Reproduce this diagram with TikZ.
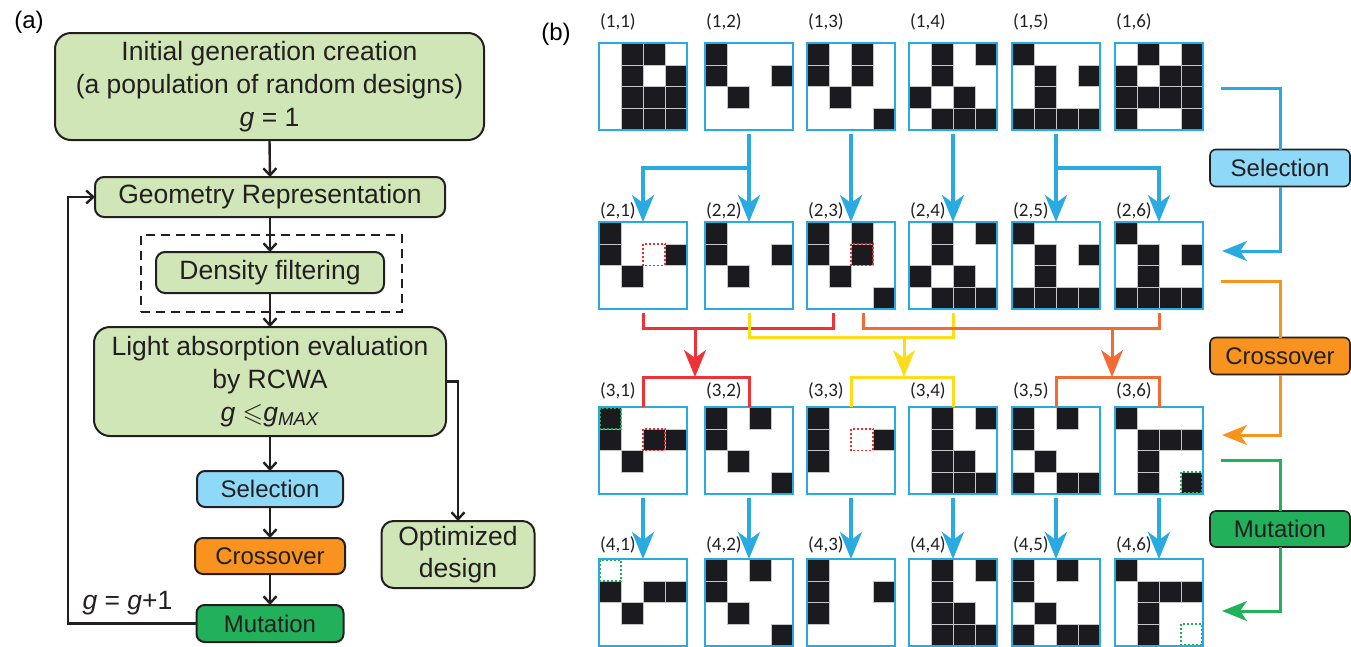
\documentclass[tikz,border=0pt]{standalone}
\usepackage{fontspec}
\usepackage{amssymb}
\setmainfont{Liberation Sans}
\newfontfamily\labfont{Carlito}
\usetikzlibrary{arrows.meta,calc}
\definecolor{boxblue}{HTML}{29ABE2}
\definecolor{selfill}{HTML}{8ED8F8}
\definecolor{crossfill}{HTML}{F7931E}
\definecolor{mutfill}{HTML}{22B05B}
\definecolor{lgreen}{HTML}{D0E6B6}
\definecolor{dark}{HTML}{231F20}
\definecolor{cellblack}{HTML}{1B1A1F}
\definecolor{xred}{HTML}{EE3338}
\definecolor{xyellow}{HTML}{FDDC1A}
\definecolor{xorange}{HTML}{F26B35}
\definecolor{rorange}{HTML}{F7941D}
\definecolor{rgreen}{HTML}{21B35B}
\definecolor{dotred}{HTML}{EE2B2B}
\definecolor{dotgreen}{HTML}{1DB052}
\tikzset{
  flow/.style={draw=dark, line width=2.4pt, -{Straight Barb[length=7pt,width=13pt]}},
  pbox/.style={draw=dark, line width=2pt, fill=lgreen, rounded corners=16pt, inner sep=0pt, outer sep=0pt, align=center, text=dark, font=\fontsize{26.5}{33}\selectfont},
  mbox/.style={draw=dark, line width=2pt, fill=lgreen, rounded corners=9pt, inner sep=0pt, outer sep=0pt, align=center, text=dark, font=\fontsize{26.5}{33}\selectfont},
  sbox/.style={draw=dark, line width=2pt, rounded corners=8pt, inner sep=0pt, outer sep=0pt, align=center, text=dark, font=\fontsize{24}{28}\selectfont},
  dashbox/.style={draw=dark, line width=2pt, dash pattern=on 9pt off 6pt, inner sep=0pt, outer sep=0pt},
  dnode/.style={rectangle, inner sep=0pt, outer sep=0pt, minimum width=88pt, minimum height=87pt},
  dborder/.style={draw=boxblue, line width=2.2pt},
  cellfill/.style={fill=cellblack, draw=gray!45, line width=0.4pt},
  reddot/.style={draw=dotred, line width=1.8pt, dash pattern=on 2pt off 2pt},
  greendot/.style={draw=dotgreen, line width=1.8pt, dash pattern=on 2pt off 2pt},
  dlab/.style={anchor=west, inner sep=0pt, text=dark, font=\labfont\fontsize{19}{22}\selectfont},
  bigtip/.style={-{Stealth[length=27pt,width=22pt,inset=8pt]}},
  selarrow/.style={draw=boxblue, line width=3.5pt, bigtip},
  redline/.style={draw=xred, line width=3pt},
  yelline/.style={draw=xyellow, line width=3pt},
  orline/.style={draw=xorange, line width=3pt},
  rtip/.style={-{Stealth[length=25pt,width=20pt,inset=7pt]}},
  rline/.style={line width=3pt},
  panlab/.style={inner sep=0pt, text=black, font=\fontsize{24}{28}\selectfont}
}
\newcommand\drawdesign[5]{%
  \node[dnode] (#1) at (#2,#3) {};
  \begin{scope}[shift={(#1.north west)}]
    \foreach \cc/\rr in {#4}{\path[cellfill] (\cc*22,\rr*21.75) rectangle ++(22,21.75);}
    #5
  \end{scope}
  \draw[dborder] (#1.north west) rectangle (#1.south east);
}
\begin{document}
\begin{tikzpicture}[x=1pt,y=-1pt]
\useasboundingbox (0,0) rectangle (1351,646);

% ---------------- panel (a) ----------------
\node[panlab] (pa) at (29,22) {(a)};
\node[pbox, minimum width=429pt, minimum height=107pt] (init) at (269.5,86.5)
  {Initial generation creation\\(a population of random designs)\\\textit{g} = 1};
\node[mbox, minimum width=350pt, minimum height=40pt] (geo) at (270,197) {Geometry Representation};
\node[dashbox, minimum width=261pt, minimum height=77pt] (filt) at (271.5,273.5) {};
\node[mbox, minimum width=228pt, minimum height=41pt] (dens) at (270,272.5) {Density filtering};
\node[pbox, minimum width=352pt, minimum height=109pt] (light) at (270,381.5)
  {Light absorption evaluation\\by RCWA\\\textit{g} $\leqslant$\textit{g}\textsubscript{\textit{MAX}}};
\node[sbox, fill=selfill, minimum width=146pt, minimum height=36pt] (sel) at (270,489) {Selection};
\node[sbox, fill=crossfill, minimum width=150pt, minimum height=36pt] (cross) at (270,556) {Crossover};
\node[sbox, fill=mutfill, minimum width=147pt, minimum height=37pt] (mut) at (270,623.5) {Mutation};
\node[pbox, rounded corners=12pt, minimum width=153pt, minimum height=67pt, font=\fontsize{26.5}{32}\selectfont] (opt) at (458,554.5) {Optimized\\design};
\node[inner sep=0pt, text=dark, font=\fontsize{26.5}{30}\selectfont] (gl) at (127.5,603) {\textit{g} = \textit{g}+1};
\coordinate (fbc) at (68,623.5);

\draw[flow] (init.south) -- (geo.north);
\draw[flow] (geo.south) -- (dens.north);
\draw[flow] (dens.south) -- (light.north);
\draw[flow] (light.south) -- (sel.north);
\draw[flow] (sel.south) -- (cross.north);
\draw[flow] (cross.south) -- (mut.north);
\draw[flow] (light.east) -| (opt.north);
\draw[flow] (mut.west) -- (fbc) |- (geo.west);

% ---------------- panel (b) ----------------
\node[panlab] (pb) at (556,34) {(b)};

% row 1
\drawdesign{d11}{643}{86.5}{1/0,2/0,1/1,3/1,1/2,2/2,3/2,1/3,2/3,3/3}{}
\drawdesign{d12}{749}{86.5}{0/0,0/1,3/1,1/2}{}
\drawdesign{d13}{851}{86.5}{0/0,2/0,0/1,2/1,1/2,3/3}{}
\drawdesign{d14}{953}{86.5}{1/0,3/0,1/1,0/2,2/2,1/3,2/3,3/3}{}
\drawdesign{d15}{1056}{86.5}{0/0,1/1,3/1,1/2,0/3,1/3,2/3,3/3}{}
\drawdesign{d16}{1159}{86.5}{1/0,3/0,0/1,2/1,3/1,0/2,1/2,2/2,3/2,0/3,3/3}{}
% row 2
\drawdesign{d21}{643}{265.5}{0/0,0/1,3/1,1/2}{\draw[reddot] (44,21.75) rectangle ++(22,21.75);}
\drawdesign{d22}{749}{265.5}{0/0,0/1,3/1,1/2}{}
\drawdesign{d23}{851}{265.5}{0/0,2/0,0/1,2/1,1/2,3/3}{\draw[reddot] (44,21.75) rectangle ++(22,21.75);}
\drawdesign{d24}{953}{265.5}{1/0,3/0,1/1,0/2,2/2,1/3,2/3,3/3}{}
\drawdesign{d25}{1056}{265.5}{0/0,1/1,3/1,1/2,0/3,1/3,2/3,3/3}{}
\drawdesign{d26}{1159}{265.5}{0/0,1/1,3/1,1/2,0/3,1/3,2/3,3/3}{}
% row 3
\drawdesign{d31}{643}{450.5}{0/0,0/1,2/1,3/1,1/2}{\draw[reddot] (44,21.75) rectangle ++(22,21.75);\draw[greendot] (1,1) rectangle (22,21.75);}
\drawdesign{d32}{749}{450.5}{0/0,2/0,0/1,1/2,3/3}{}
\drawdesign{d33}{851}{450.5}{0/0,0/1,3/1,0/2}{\draw[reddot] (44,21.75) rectangle ++(22,21.75);}
\drawdesign{d34}{953}{450.5}{1/0,3/0,1/1,1/2,2/2,1/3,2/3,3/3}{}
\drawdesign{d35}{1056}{450.5}{0/0,2/0,0/1,1/2,0/3,2/3,3/3}{}
\drawdesign{d36}{1159}{450.5}{0/0,1/1,2/1,3/1,1/2,1/3,3/3}{\draw[greendot] (66,65.25) rectangle (87,86);}
% row 4
\drawdesign{d41}{643}{602.5}{0/1,2/1,3/1,1/2}{\draw[greendot] (1,1) rectangle (22,21.75);}
\drawdesign{d42}{749}{602.5}{0/0,2/0,0/1,1/2,3/3}{}
\drawdesign{d43}{851}{602.5}{0/0,0/1,3/1,0/2}{}
\drawdesign{d44}{953}{602.5}{1/0,3/0,1/1,1/2,2/2,1/3,2/3,3/3}{}
\drawdesign{d45}{1056}{602.5}{0/0,2/0,0/1,1/2,0/3,2/3,3/3}{}
\drawdesign{d46}{1159}{602.5}{0/0,1/1,2/1,3/1,1/2,1/3}{\draw[greendot] (66,65.25) rectangle (87,86);}

% labels
\foreach \i/\ly in {1/22,2/211,3/391,4/545}
  \foreach \j/\lx in {1/600,2/706,3/808,4/910,5/1013,6/1116}
    \node[dlab] (lab\i\j) at (\lx,\ly) {(\i,\j)};

% selection arrows row 1 -> row 2
\draw[selarrow] ($(d12.south)+(0,4)$) -- (d22.north);
\draw[selarrow] ($(d12.south)+(0,4)$) |- ($(d21.north)+(0,-54)$) -- (d21.north);
\draw[selarrow] ($(d13.south)+(0,4)$) -- (d23.north);
\draw[selarrow] ($(d14.south)+(0,4)$) -- (d24.north);
\draw[selarrow] ($(d15.south)+(0,4)$) -- (d25.north);
\draw[selarrow] ($(d15.south)+(0,4)$) |- ($(d26.north)+(0,-54)$) -- (d26.north);

% crossover connectors
\coordinate (rj) at (695,328.5);   \coordinate (rt) at (695,377);
\coordinate (yj) at (904,337.5);   \coordinate (yt) at (904,377);
\coordinate (oj) at (1112,328.5);  \coordinate (ot) at (1112,377);
\draw[redline] ($(d21.south)+(0,4)$) |- ($(d23.south)+(-18,19)$) -- ($(d23.south)+(-18,4)$);
\draw[redline, bigtip] (rj) -- (rt);
\draw[redline] (d31.north) -- ++(0,-30) -| (d32.north);
\draw[yelline] ($(d22.south)+(0,4)$) |- ($(d24.south)+(0,28)$) -- ($(d24.south)+(0,4)$);
\draw[yelline, bigtip] (yj) -- (yt);
\draw[yelline] (d33.north) -- ++(0,-30) -| (d34.north);
\draw[orline] ($(d23.south)+(12,4)$) |- ($(d26.south)+(0,19)$) -- ($(d26.south)+(0,4)$);
\draw[orline, bigtip] (oj) -- (ot);
\draw[orline] (d35.north) -- ++(0,-30) -| (d36.north);

% mutation arrows row 3 -> row 4
\foreach \j in {1,...,6}
  \draw[selarrow] ($(d3\j.south)+(0,4)$) -- (d4\j.north);

% right-hand side step labels
\node[sbox, line width=1.6pt, rounded corners=6pt, fill=selfill, minimum width=140pt, minimum height=37pt] (selR) at (1280,168) {Selection};
\node[sbox, line width=1.6pt, rounded corners=6pt, fill=crossfill, minimum width=140pt, minimum height=37pt] (crR) at (1280,356) {Crossover};
\node[sbox, line width=1.6pt, rounded corners=6pt, fill=mutfill, minimum width=140pt, minimum height=36pt] (mutR) at (1280,529) {Mutation};
\coordinate (bs) at (1221,88);  \coordinate (be) at (1222,251);
\coordinate (os) at (1221,281); \coordinate (oe) at (1222,435);
\coordinate (gs) at (1221,460); \coordinate (ge) at (1222,611);
\draw[rline, draw=boxblue] (bs) -| (selR.north);
\draw[rline, draw=boxblue, rtip] (selR.south) |- (be);
\draw[rline, draw=rorange] (os) -| (crR.north);
\draw[rline, draw=rorange, rtip] (crR.south) |- (oe);
\draw[rline, draw=rgreen] (gs) -| (mutR.north);
\draw[rline, draw=rgreen, rtip] (mutR.south) |- (ge);
\end{tikzpicture}
\end{document}
